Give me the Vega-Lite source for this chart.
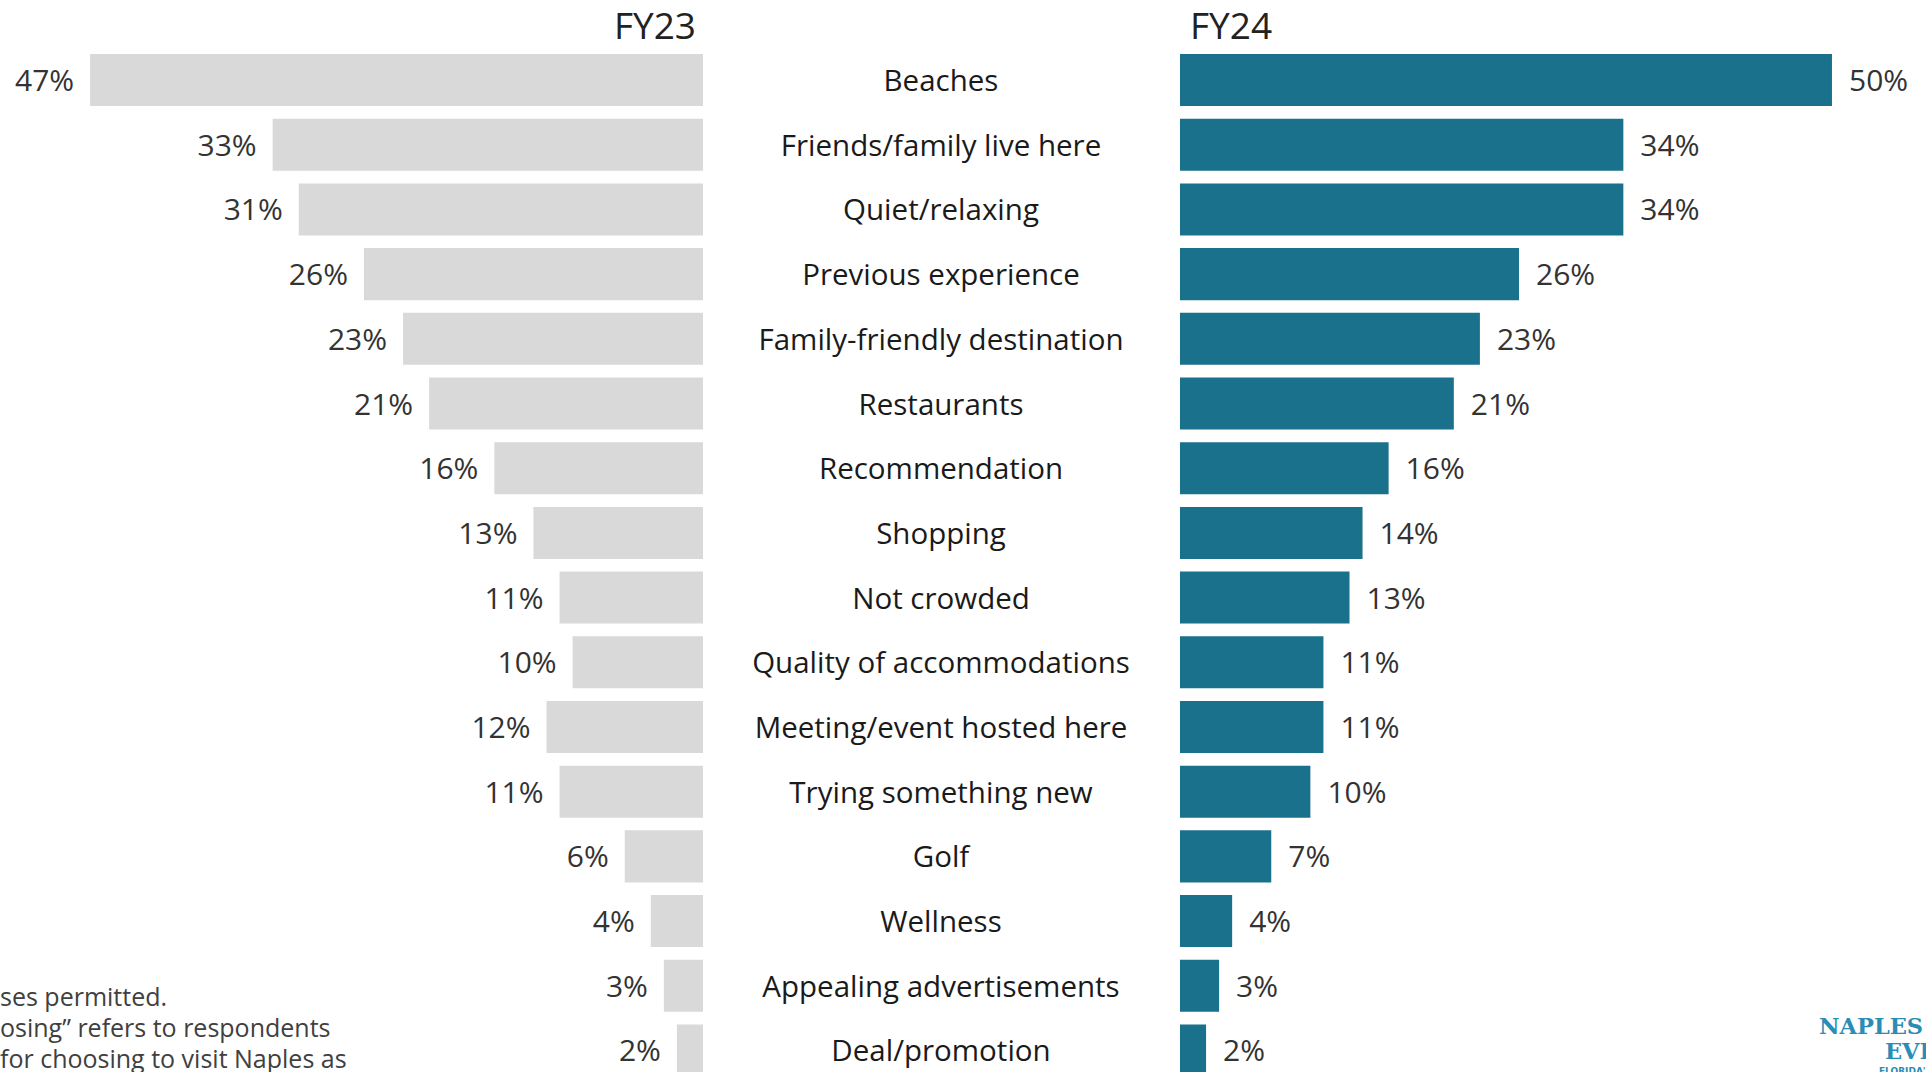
{
  "$schema": "https://vega.github.io/schema/vega-lite/v6.json",
  "autosize": "none",
  "width": 1926,
  "height": 1018,
  "padding": {"top": 54, "left": 0, "right": 0, "bottom": 0},
  "background": "white",
  "config": {"view": {"stroke": null}, "font": "Open Sans"},
  "datasets": {
    "rows": [
      {"category": "Beaches", "fy23": 0.47, "fy24": 0.50},
      {"category": "Friends/family live here", "fy23": 0.33, "fy24": 0.34},
      {"category": "Quiet/relaxing", "fy23": 0.31, "fy24": 0.34},
      {"category": "Previous experience", "fy23": 0.26, "fy24": 0.26},
      {"category": "Family-friendly destination", "fy23": 0.23, "fy24": 0.23},
      {"category": "Restaurants", "fy23": 0.21, "fy24": 0.21},
      {"category": "Recommendation", "fy23": 0.16, "fy24": 0.16},
      {"category": "Shopping", "fy23": 0.13, "fy24": 0.14},
      {"category": "Not crowded", "fy23": 0.11, "fy24": 0.13},
      {"category": "Quality of accommodations", "fy23": 0.10, "fy24": 0.11},
      {"category": "Meeting/event hosted here", "fy23": 0.12, "fy24": 0.11},
      {"category": "Trying something new", "fy23": 0.11, "fy24": 0.10},
      {"category": "Golf", "fy23": 0.06, "fy24": 0.07},
      {"category": "Wellness", "fy23": 0.04, "fy24": 0.04},
      {"category": "Appealing advertisements", "fy23": 0.03, "fy24": 0.03},
      {"category": "Deal/promotion", "fy23": 0.02, "fy24": 0.02}
    ],
    "head23": [{"label": "FY23"}],
    "head24": [{"label": "FY24"}],
    "note": [{"txt": "ses permitted.\nosing” refers to respondents\nfor choosing to visit Naples as"}],
    "logo1": [{"txt": "NAPLES · MARCO ISLAND"}],
    "logo2": [{"txt": "EVERGLADES"}],
    "logo3": [{"txt": "FLORIDA'S PARADISE COAST"}]
  },
  "resolve": {"scale": {"x": "independent"}},
  "layer": [
    {
      "layer": [
        {
          "data": {"name": "rows"},
          "mark": {"type": "bar", "color": "#d9d9d9"},
          "encoding": {
            "y": {"field": "category", "type": "nominal", "sort": null, "axis": null,
              "scale": {"domain": ["Beaches","Friends/family live here","Quiet/relaxing","Previous experience","Family-friendly destination","Restaurants","Recommendation","Shopping","Not crowded","Quality of accommodations","Meeting/event hosted here","Trying something new","Golf","Wellness","Appealing advertisements","Deal/promotion"], "range": [0, 1022.5], "paddingInner": 0.1955, "paddingOuter": 0}},
            "x": {"field": "fy23", "type": "quantitative", "axis": null,
              "scale": {"domain": [-0.9379, 0.5391], "reverse": true, "nice": false, "zero": false}},
            "x2": {"datum": 0}
          }
        },
        {
          "data": {"name": "rows"},
          "mark": {"type": "text", "align": "right", "baseline": "middle", "dx": -16, "dy": 2, "fontSize": 30, "color": "#333333"},
          "encoding": {
            "y": {"field": "category", "type": "nominal", "sort": null, "axis": null},
            "x": {"field": "fy23", "type": "quantitative", "axis": null},
            "text": {"field": "fy23", "type": "quantitative", "format": ".0%"}
          }
        },
        {
          "data": {"name": "rows"},
          "mark": {"type": "text", "align": "center", "baseline": "middle", "dy": 2, "fontSize": 29.5, "color": "#1a1a1a"},
          "encoding": {
            "y": {"field": "category", "type": "nominal", "sort": null, "axis": null},
            "x": {"datum": -0.18253, "type": "quantitative", "axis": null},
            "text": {"field": "category", "type": "nominal"}
          }
        },
        {
          "data": {"name": "head23"},
          "mark": {"type": "text", "align": "right", "baseline": "alphabetic", "dx": -7, "dy": -41, "fontSize": 37, "color": "#222222"},
          "encoding": {
            "y": {"datum": "Beaches", "type": "nominal", "axis": null},
            "x": {"datum": 0, "type": "quantitative", "axis": null},
            "text": {"field": "label", "type": "nominal"}
          }
        },
        {
          "data": {"name": "note"},
          "mark": {"type": "text", "align": "left", "baseline": "alphabetic", "dy": -44, "fontSize": 25, "lineHeight": 31, "lineBreak": "\n", "color": "#404040"},
          "encoding": {
            "y": {"datum": "Deal/promotion", "type": "nominal", "axis": null},
            "x": {"datum": 0.5391, "type": "quantitative", "axis": null},
            "text": {"field": "txt", "type": "nominal"}
          }
        }
      ]
    },
    {
      "layer": [
        {
          "data": {"name": "rows"},
          "mark": {"type": "bar", "color": "#1a718c"},
          "encoding": {
            "y": {"field": "category", "type": "nominal", "sort": null, "axis": null},
            "x": {"field": "fy24", "type": "quantitative", "axis": null,
              "scale": {"domain": [-0.9049, 0.5721], "nice": false, "zero": false}},
            "x2": {"datum": 0}
          }
        },
        {
          "data": {"name": "rows"},
          "mark": {"type": "text", "align": "left", "baseline": "middle", "dx": 17, "dy": 2, "fontSize": 30, "color": "#333333"},
          "encoding": {
            "y": {"field": "category", "type": "nominal", "sort": null, "axis": null},
            "x": {"field": "fy24", "type": "quantitative", "axis": null},
            "text": {"field": "fy24", "type": "quantitative", "format": ".0%"}
          }
        },
        {
          "data": {"name": "head24"},
          "mark": {"type": "text", "align": "left", "baseline": "alphabetic", "dx": 10, "dy": -41, "fontSize": 37, "color": "#222222"},
          "encoding": {
            "y": {"datum": "Beaches", "type": "nominal", "axis": null},
            "x": {"datum": 0, "type": "quantitative", "axis": null},
            "text": {"field": "label", "type": "nominal"}
          }
        },
        {
          "data": {"name": "logo1"},
          "mark": {"type": "text", "align": "left", "baseline": "alphabetic", "dy": -16, "fontSize": 22.5, "font": "DejaVu Serif", "fontWeight": "bold", "color": "#2a8db5"},
          "encoding": {
            "y": {"datum": "Deal/promotion", "type": "nominal", "axis": null},
            "x": {"datum": 0.490, "type": "quantitative", "axis": null},
            "text": {"field": "txt", "type": "nominal"}
          }
        },
        {
          "data": {"name": "logo2"},
          "mark": {"type": "text", "align": "left", "baseline": "alphabetic", "dy": 9, "fontSize": 22.5, "font": "DejaVu Serif", "fontWeight": "bold", "color": "#2a8db5"},
          "encoding": {
            "y": {"datum": "Deal/promotion", "type": "nominal", "axis": null},
            "x": {"datum": 0.5406, "type": "quantitative", "axis": null},
            "text": {"field": "txt", "type": "nominal"}
          }
        },
        {
          "data": {"name": "logo3"},
          "mark": {"type": "text", "align": "left", "baseline": "alphabetic", "dy": 24, "fontSize": 9, "font": "DejaVu Sans", "fontWeight": "bold", "color": "#2a8db5"},
          "encoding": {
            "y": {"datum": "Deal/promotion", "type": "nominal", "axis": null},
            "x": {"datum": 0.536, "type": "quantitative", "axis": null},
            "text": {"field": "txt", "type": "nominal"}
          }
        }
      ]
    }
  ]
}
